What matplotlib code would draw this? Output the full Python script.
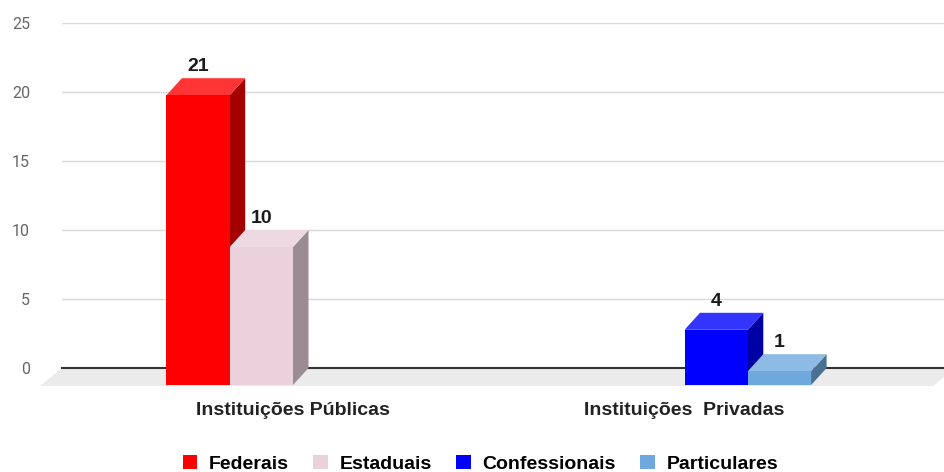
import matplotlib
matplotlib.use("Agg")
from matplotlib import pyplot as plt
from matplotlib.patches import Polygon, Patch

categories = ["Instituições Públicas", "Instituições  Privadas"]
series = ["Federais", "Estaduais", "Confessionais", "Particulares"]
federais = [21, 0]
estaduais = [10, 0]
confessionais = [0, 4]
particulares = [0, 1]
yticks = [0, 5, 10, 15, 20, 25]

# front, top, side shades for each series
shades = [
    ("#ff0000", "#ff3434", "#a50000"),
    ("#ead1dc", "#eed9e2", "#9b8b92"),
    ("#0000ff", "#3434ff", "#0000a5"),
    ("#6fa8dc", "#8dbbe5", "#4a7093"),
]

W, H, DPI = 944, 472, 100
fig = plt.figure(figsize=(W / DPI, H / DPI), dpi=DPI)
left_px, right_px, top_px, zero_px = 62, 944, 23, 368
ax = fig.add_axes([left_px / W, 1 - zero_px / H,
                   (right_px - left_px) / W, (zero_px - top_px) / H])

group_px = 391.5
xmin = -(293 - left_px) / group_px
xmax = xmin + (right_px - left_px) / group_px
ax.set_xlim(xmin, xmax)
ax.set_ylim(0, 25)

px_x = group_px
px_y = (zero_px - top_px) / 25.0
dxd = 15.5 / px_x          # depth offset of the bars
dyd = 17 / px_y
slot = 63.3 / px_x

for s in ["top", "right", "left", "bottom"]:
    ax.spines[s].set_visible(False)
ax.set_xticks([])
ax.set_yticks(yticks)
ax.tick_params(axis="y", length=0, pad=23, labelsize=11.5, labelcolor="#666666")
for lab in ax.get_yticklabels():
    lab.set_fontfamily("Roboto")
ax.grid(axis="y", color="#d9d9d9", linewidth=1)
ax.set_axisbelow(True)

# floor
fdx = 22 / px_x
fdy = 18 / px_y
floor = Polygon([(xmin, 0), (xmax + fdx * 0.5, 0), (xmax - fdx * 0.5, -fdy),
                 (xmin - fdx, -fdy)], closed=True, facecolor="#ebebeb",
                edgecolor="none", clip_on=False, zorder=1)
ax.add_patch(floor)
ax.plot([xmin, xmax], [0, 0], color="#333333", linewidth=1.5, zorder=2,
        clip_on=False)

values = [federais, estaduais, confessionais, particulares]
for g in range(len(categories)):
    for k, vals in enumerate(values):
        v = vals[g]
        if v == 0:
            continue
        front, top, side = shades[k]
        xl = g - 2 * slot + k * slot
        xr = xl + slot
        z = 3 + g * 10 + k
        ax.add_patch(Polygon([(xr, -dyd), (xr + dxd, 0), (xr + dxd, v), (xr, v - dyd)],
                             facecolor=side, edgecolor="none", clip_on=False, zorder=z))
        ax.add_patch(Polygon([(xl, v - dyd), (xr, v - dyd), (xr + dxd, v), (xl + dxd, v)],
                             facecolor=top, edgecolor="none", clip_on=False, zorder=z))
        ax.add_patch(Polygon([(xl, -dyd), (xr, -dyd), (xr, v - dyd), (xl, v - dyd)],
                             facecolor=front, edgecolor="none", clip_on=False, zorder=z))
        ax.annotate(str(v), (xl + slot / 2, v), xytext=(0, 2),
                    textcoords="offset points", ha="center", va="bottom",
                    fontsize=14, fontweight="bold", color="#1a1a1a",
                    fontfamily="Liberation Sans", zorder=50)

for g, name in enumerate(categories):
    ax.text(g, -3.05, name, ha="center", va="center", fontsize=14,
            fontweight="bold", color="#222222", fontfamily="Liberation Sans")

handles = [Patch(facecolor=shades[k][0], edgecolor="none", label=series[k])
           for k in range(len(series))]
fig.legend(handles=handles, loc="center", bbox_to_anchor=(0.509, 1 - 464 / H),
           ncol=4, frameon=False, handlelength=0.75, handleheight=0.75,
           handletextpad=0.6, columnspacing=1.25,
           prop={"family": "Liberation Sans", "weight": "bold", "size": 14})

fig.savefig("out.png", dpi=DPI)
